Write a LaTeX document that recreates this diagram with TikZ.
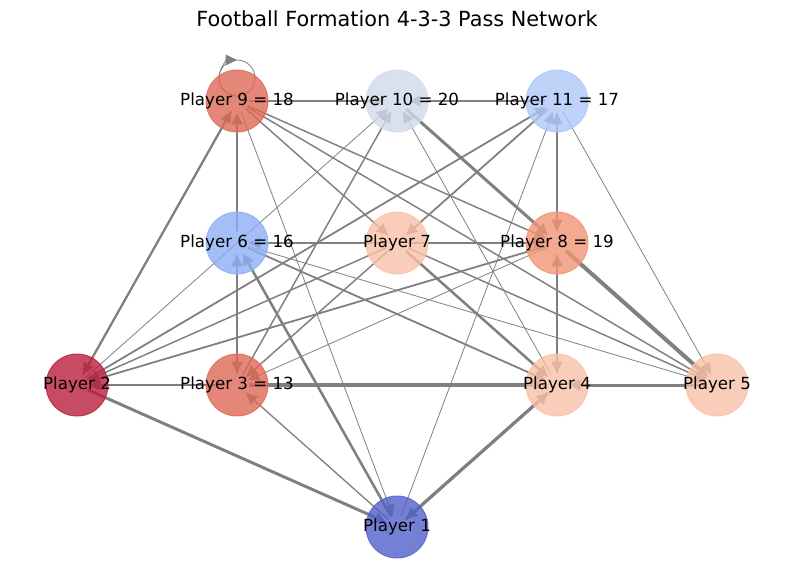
\documentclass[tikz,border=0pt]{standalone}
\usepackage{fontspec}
\setmainfont{DejaVu Sans}
\usetikzlibrary{arrows.meta}

\pgfdeclarelayer{edges}
\pgfsetlayers{edges,main}

\definecolor{keeper}{RGB}{81,96,201}
\definecolor{hotred}{RGB}{186,30,61}
\definecolor{salmon}{RGB}{221,105,86}
\definecolor{coral}{RGB}{241,149,117}
\definecolor{peach}{RGB}{247,192,167}
\definecolor{midblue}{RGB}{141,174,246}
\definecolor{paleblue}{RGB}{174,199,249}
\definecolor{greyblue}{RGB}{208,218,234}

\begin{document}
\begin{tikzpicture}[x=0.75pt, y=-0.75pt,
    player/.style={circle, minimum size=46.5pt, inner sep=0pt, draw=#1, fill=#1,
        fill opacity=0.8, draw opacity=0.8, line width=0.75pt},
    every label/.style={text opacity=1, fill opacity=1, inner sep=0pt,
        font=\fontsize{12.5}{15}\selectfont},
    pass/.style={draw=gray, line width=#1, shorten <=9pt, shorten >=9pt,
        -{Triangle[length=8.5pt, width=8pt]}},
    pass/.default=1pt
]
    \useasboundingbox (0,0) rectangle (794,583);

    % Title
    \node (title) at (397,19) {\fontsize{15.6}{18}\selectfont Football Formation 4-3-3 Pass Network};

    % Forwards
    \node[player=salmon,   label=center:{Player 9 = 18}]  (p9)  at (237,101) {};
    \node[player=greyblue, label=center:{Player 10 = 20}] (p10) at (397,101) {};
    \node[player=paleblue, label=center:{Player 11 = 17}] (p11) at (557,101) {};

    % Midfield
    \node[player=midblue, label=center:{Player 6 = 16}] (p6) at (237,243) {};
    \node[player=peach,   label=center:{Player 7}]      (p7) at (397,243) {};
    \node[player=coral,   label=center:{Player 8 = 19}] (p8) at (557,243) {};

    % Defence
    \node[player=hotred, label=center:{Player 2}]      (p2) at (77,385)  {};
    \node[player=salmon, label=center:{Player 3 = 13}] (p3) at (237,385) {};
    \node[player=peach,  label=center:{Player 4}]      (p4) at (557,385) {};
    \node[player=peach,  label=center:{Player 5}]      (p5) at (717,385) {};

    % Goalkeeper
    \node[player=keeper, label=center:{Player 1}] (p1) at (397,527) {};

    \begin{pgfonlayer}{edges}
        % Passes along the rows
        \draw[pass=1.35pt] (p9.center) -- (p10.center);
        \draw[pass=1.35pt] (p11.center) -- (p10.center);
        \draw[pass=1.5pt] (p7.center) -- (p6.center);
        \draw[pass=1.5pt] (p7.center) -- (p8.center);
        \draw[pass=1.9pt] (p3.center) -- (p2.center);
        \draw[pass=2.6pt] (p3.center) -- (p4.center);
        \draw[pass=2.25pt] (p5.center) -- (p4.center);

        % Passes along the columns
        \draw[pass=1.5pt] (p6.center) -- (p9.center);
        \draw[pass=1.35pt] (p3.center) -- (p6.center);
        \draw[pass=1.35pt] (p6.center) -- (p3.center);
        \draw[pass=1.35pt] (p11.center) -- (p8.center);
        \draw[pass=1.35pt] (p8.center) -- (p11.center);
        \draw[pass=1.35pt] (p4.center) -- (p8.center);
        \draw[pass=1.35pt] (p8.center) -- (p4.center);

        % From and to Player 9
        \draw[pass=1.5pt] (p2.center) -- (p9.center);
        \draw[pass=1.5pt] (p9.center) -- (p2.center);
        \draw[pass=1.1pt] (p9.center) -- (p7.center);
        \draw[pass=1.1pt] (p9.center) -- (p8.center);
        \draw[pass=1.1pt] (p9.center) -- (p5.center);
        \draw[pass=0.6pt] (p9.center) -- (p1.center);
        \draw[gray, line width=0.6pt] (p9.center) ++(0,-23) circle (13.5pt);
        \draw[gray, line width=0.6pt, -{Triangle[length=8.5pt, width=8pt]}]
            (p9.center) ++(0,-5) arc[start angle=270, end angle=90, radius=13.5pt];

        % Player 10
        \draw[pass=0.6pt] (p2.center) -- (p10.center);
        \draw[pass=1.1pt] (p3.center) -- (p10.center);
        \draw[pass=2.25pt] (p10.center) -- (p8.center);
        \draw[pass=0.6pt] (p4.center) -- (p10.center);

        % Player 11
        \draw[pass=1.35pt] (p2.center) -- (p11.center);
        \draw[pass=1.35pt] (p11.center) -- (p7.center);
        \draw[pass=0.6pt] (p1.center) -- (p11.center);
        \draw[pass=0.6pt] (p11.center) -- (p5.center);

        % Player 6 and 7
        \draw[pass=1.35pt] (p6.center) -- (p4.center);
        \draw[pass=0.6pt] (p6.center) -- (p5.center);
        \draw[pass=1.9pt] (p1.center) -- (p6.center);
        \draw[pass=1.1pt] (p7.center) -- (p5.center);
        \draw[pass=1.1pt] (p7.center) -- (p2.center);
        \draw[pass=1.9pt] (p7.center) -- (p4.center);
        \draw[pass=1.1pt] (p7.center) -- (p3.center);

        % Player 8
        \draw[pass=3pt] (p8.center) -- (p5.center);
        \draw[pass=1.35pt] (p8.center) -- (p2.center);
        \draw[pass=0.6pt] (p8.center) -- (p3.center);

        % Back line and keeper
        \draw[pass=2.25pt] (p2.center) -- (p1.center);
        \draw[pass=2.25pt] (p4.center) -- (p1.center);
        \draw[pass=2.25pt] (p1.center) -- (p4.center);
        \draw[pass=1pt] (p1.center) -- (p3.center);
    \end{pgfonlayer}

\end{tikzpicture}
\end{document}
